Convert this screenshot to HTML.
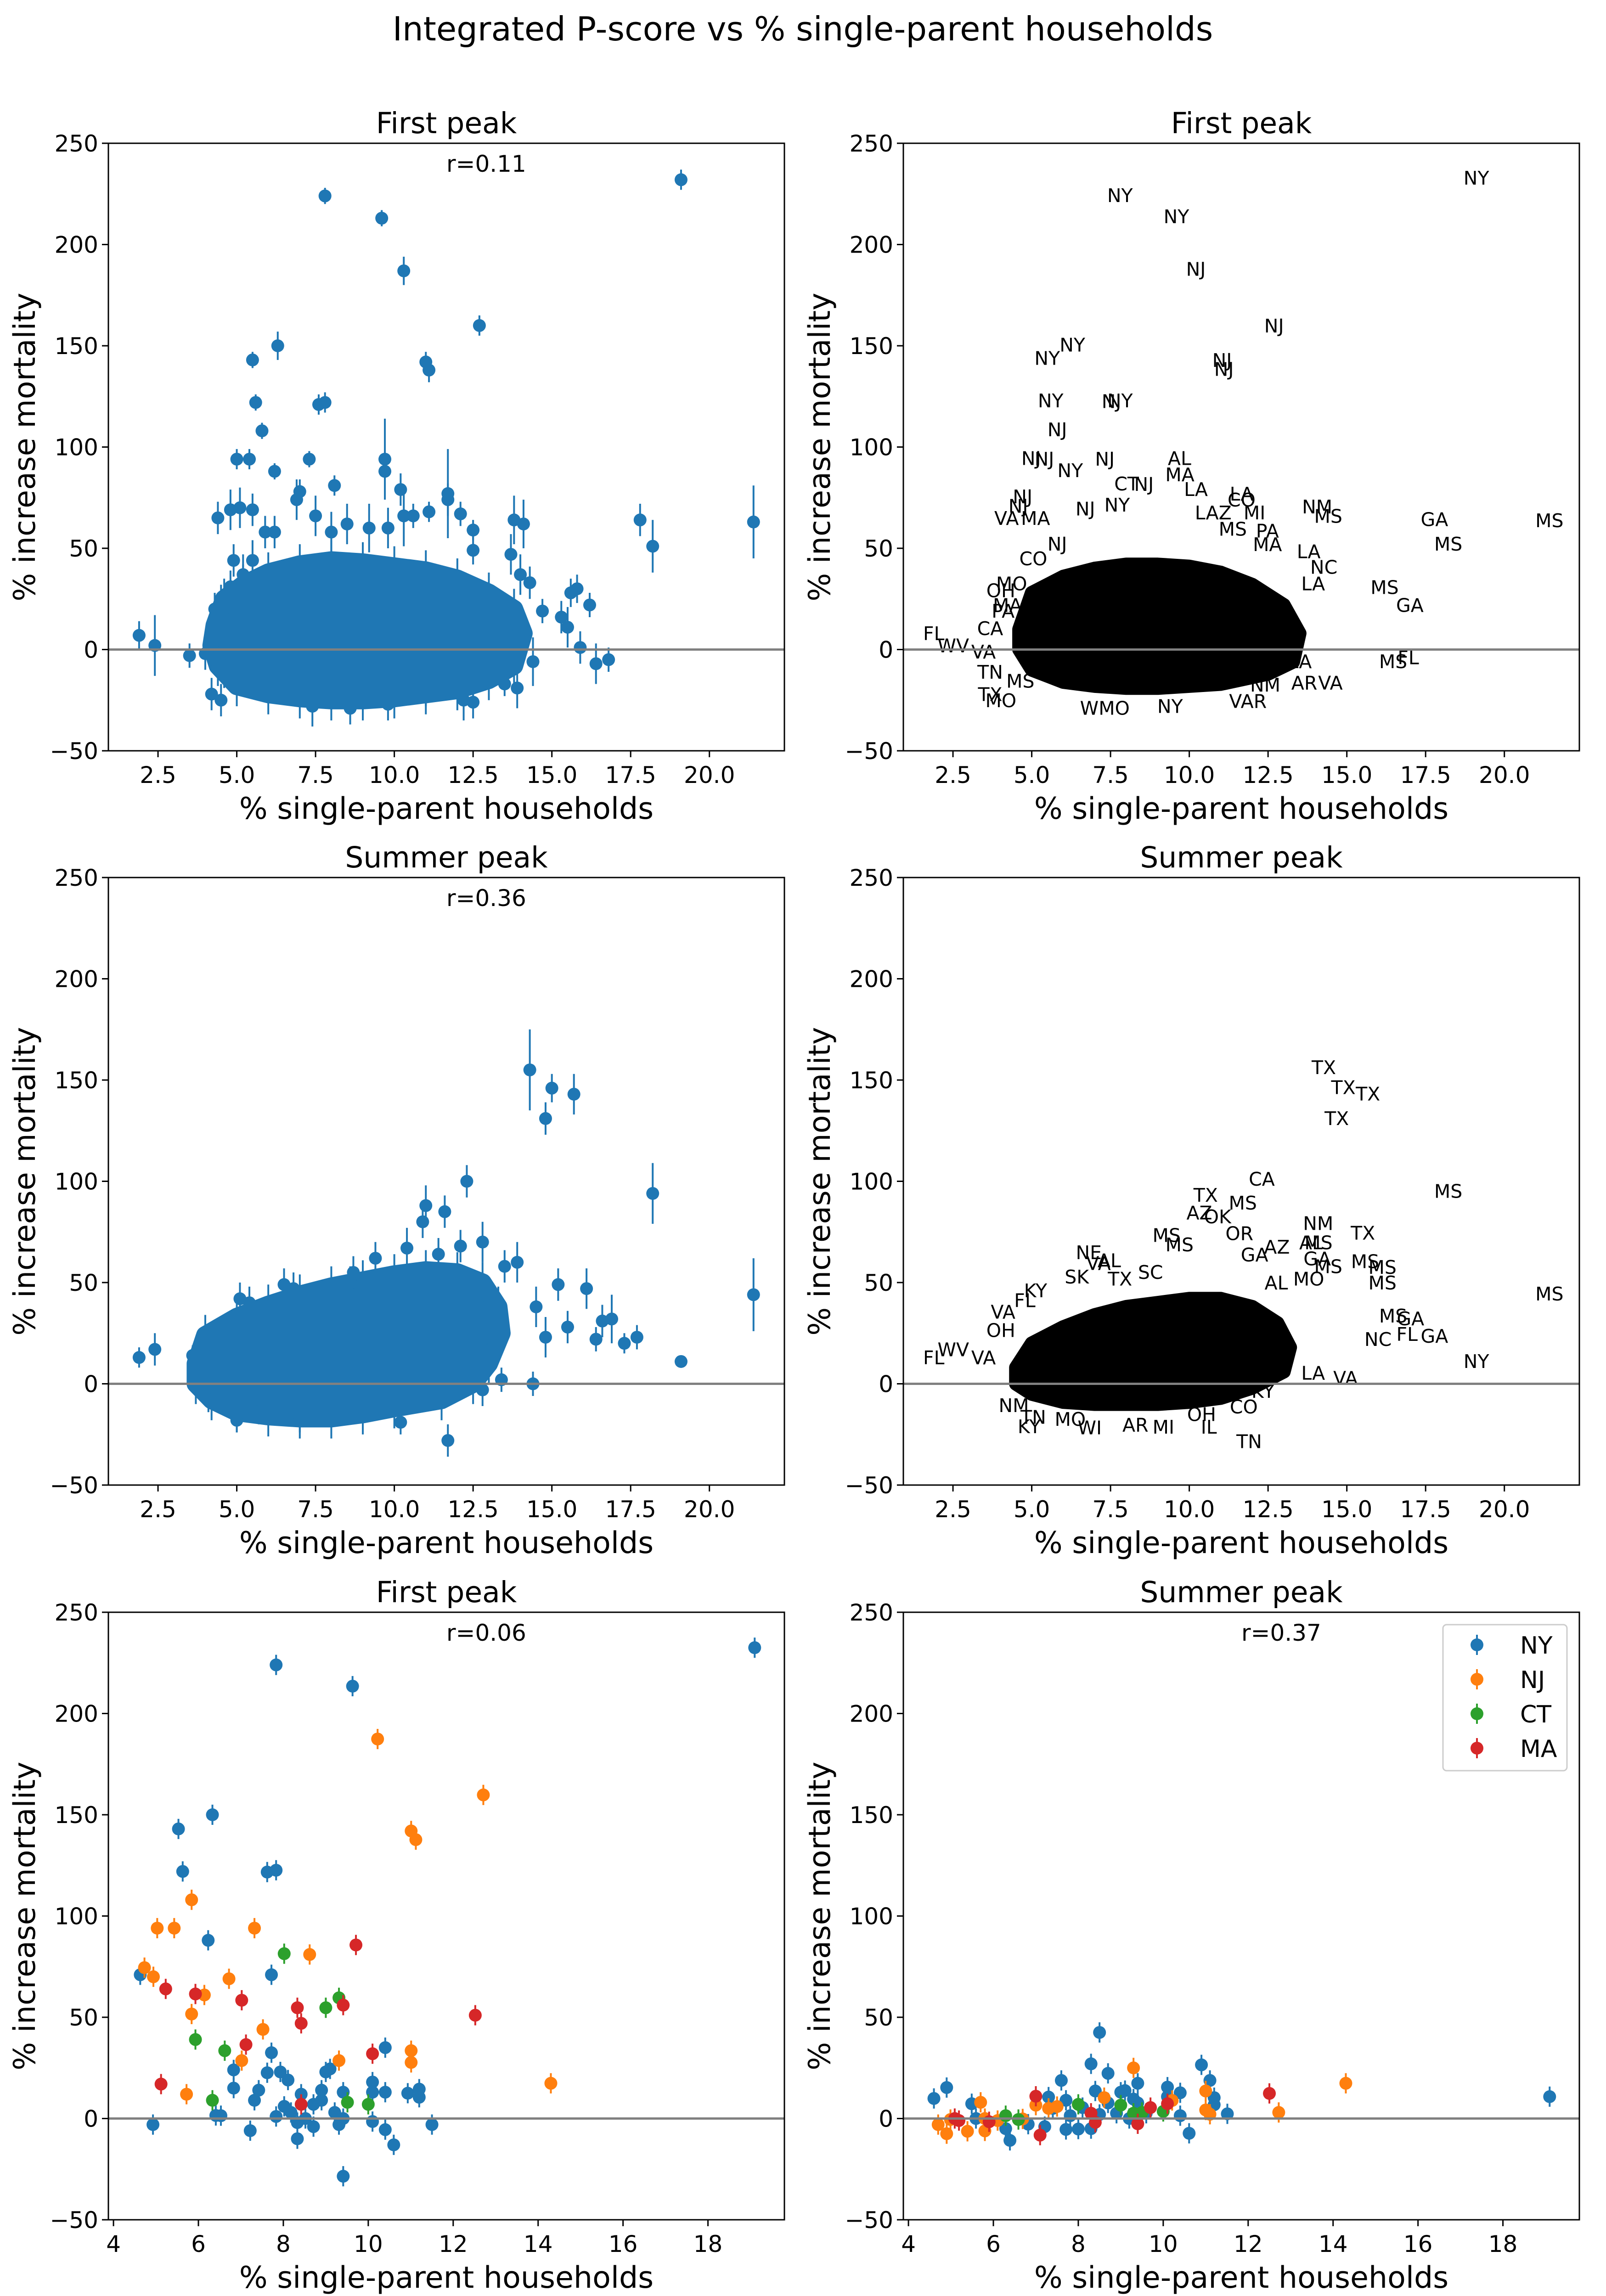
<!DOCTYPE html>
<html><head><meta charset="utf-8">
<style>
html,body{margin:0;padding:0;background:#fff;width:3497px;height:5026px;overflow:hidden;}
svg{display:block;font-family:"DejaVu Sans","Liberation Sans",sans-serif;}
</style></head>
<body>
<svg id="fig" width="3497" height="5026" viewBox="0 0 3497 5026" xmlns="http://www.w3.org/2000/svg">
<rect width="3497" height="5026" fill="#fff"/>
<text x="1748" y="88" font-size="72" text-anchor="middle">Integrated P-score vs % single-parent households</text>
</svg>
<script>
// ---------- data ----------
const fpX = [1.9,2.4,3.5,7.8,9.6,10.3,12.7,19.1,11,11.1,5.5,6.3,5.6,7.6,7.8,5.8,5,5.4,6.2,7.3,8.1,9.7,9.7,10.2,11.7,11.7,12.1,11.1,10.3,10.6,12.5,13.8,14.1,17.8,18.2,21.4,4.4,4.8,5.1,5.5,5.9,6.2,5.2,5.5,6.9,7.5,8,8.5,9.2,9.8,12.5,13.7,14,14.3,15.6,15.8,16.2,14.7,15.3,15.5,15.9,16.4,16.8,14.4,13.9,13.5,12.5,12.2,11,8.6,9.8,7.4,4.2,4.5,4.6,4.0,4.3,4.5,4.9,4.8,7];
const fpY = [7,2,-3,224,213,187,160,232,142,138,143,150,122,121,122,108,94,94,88,94,81,94,88,79,77,74,67,68,66,66,59,64,62,64,51,63,65,69,70,69,58,58,37,44,74,66,58,62,60,60,49,47,37,33,28,30,22,19,16,11,1,-7,-5,-6,-19,-17,-26,-25,-20,-29,-27,-28,-22,-25,-11,-2,20,24,44,31,78];
const fpE = [7,15,6,4,4,7,5,5,5,6,4,7,4,5,5,4,5,5,4,4,5,20,4,8,22,8,6,5,15,6,5,12,12,8,13,18,8,10,10,8,8,8,10,10,10,10,10,10,12,10,7,10,10,8,7,7,6,6,8,10,8,10,6,12,10,6,8,10,8,8,8,10,8,8,8,8,8,8,8,8,6];
const fpCloudX = [4.3,4.6,5.2,6,7,8,9,10,11,12,13,13.8,14.1,13.8,13,12,11,10,9,8,7,6,5,4.4,4.2];
const fpCloudY = [12,25,32,38,42,44,43,41,39,35,28,20,8,-8,-15,-20,-22,-24,-25,-25,-24,-22,-18,-8,2];
const fpLab = ["NY","NY","NY","NJ","NJ","NJ","NJ","NY","NY","NY","NJ","NY","NJ","NJ","NJ","NY","NJ","AL","MA","LA","CT","NJ","LA","CO","NY","NJ","NJ","NJ","VA","MA","MI","LAZ","NM","MS","GA","MS","MS","MS","PA","MA","LA","NC","LA","MS","GA","MS","FL","LA","AR","VA","NM","VAR","NY","WMO","MO","TX","TN","MS","VA","WV","FL","CA","PA","MA","OH","MO","CO","NJ"];
const fpLabX = [19.11,7.8,9.59,10.21,12.69,11.04,11.1,6.29,5.49,5.6,7.53,7.8,5.81,4.98,5.4,6.22,7.32,9.69,9.7,10.21,8.01,8.56,11.66,11.66,7.71,6.7,4.71,4.57,4.2,5.12,12.07,10.76,14.06,14.41,17.78,21.43,18.22,11.38,12.48,12.48,13.79,14.27,13.93,16.2,17,16.47,16.95,13.51,13.65,14.48,12.41,11.86,9.39,7.32,4.02,3.68,3.68,4.64,3.47,2.51,1.89,3.68,4.09,4.23,4.02,4.36,5.05,5.81];
const fpLabY = [233,224.4,214,188,160,143,138.5,150.6,144,123,122.7,123,108.7,94.6,94.2,88.5,94.2,94.6,86.5,79.2,82,81.7,77,74,71.5,69.6,75.6,71,65,65,67.7,67.7,70.6,66,64.4,63.8,52.3,59.6,58.7,52,48.5,40.8,32.7,30.8,22,-5.8,-3.8,-5.8,-16.3,-16.3,-17.3,-25.4,-27.9,-28.8,-25,-22,-11,-15.4,-1,2,8,10.6,19.2,22,29.2,32.7,45,52.3];
const fpTextCloudX = [4.6,5,6,7,8,9,10,11,12,13,13.5,13.3,12.5,11,10,9,8,7,6,5,4.6];
const fpTextCloudY = [10,28,36,40,42,42,41,38,32,22,8,-6,-12,-17,-18,-19,-19,-18,-16,-10,0];

const smX = [14.3,15,14.8,15.7,18.2,21.4,19.1,1.9,2.4,12.3,17.7,16.6,16.9,16.1,15.2,14.5,14.8,13.9,13.5,11,11.6,10.9,12.1,12.8,11.4,9.4,10.4,8.7,8.6,6.5,6.8,5.4,5.1,3.6,3.8,4.1,5,5.7,7,10.2,11.7,12.8,13.4,14.4,16.4,17.3,15.5,12.9,13.3];
const smY = [155,146,131,143,94,44,11,13,17,100,23,31,32,47,49,38,23,60,58,88,85,80,68,70,64,62,67,55,50,49,47,40,42,14,3,-8,-18,-14,-18,-19,-28,-3,2,0,22,20,28,24,37];
const smE = [20,7,8,10,15,18,3,5,8,8,6,8,12,10,8,10,10,10,8,10,8,8,8,10,8,8,10,8,8,8,8,8,8,5,6,6,6,6,6,6,8,8,6,6,6,5,8,8,8];
const smCloudX = [3.7,4,5,6,7,8,9,10,11,12,12.8,13.3,13.4,13,12.5,11.5,10,9,8,7,6,5,4.2,3.7];
const smCloudY = [10,24,33,39,44,48,51,54,56,55,50,38,25,10,0,-8,-12,-15,-17,-17,-16,-14,-8,0];
const smLab = ["TX","TX","TX","TX","CA","TX","MS","AZ","OK","MS","NM","TX","AL","MS","OR","MS","MS","AZ","GA","NE","AL","VA","GA","MS","MS","MS","MS","MO","AL","MS","MS","GA","FL","GA","NC","NY","VA","LA","FL","WV","VA","OH","VA","KY","NM","TN","MO","WI","AR","MI","OH","IL","TN","CO","KY","TX","SC","SK","KY","FL"];
const smLabX = [14.27,14.89,15.67,14.68,12.3,10.52,11.7,10.32,10.9,18.22,14.09,15.51,13.86,14.1,11.59,9.28,9.69,12.78,12.07,6.81,7.46,7.12,14.06,14.41,15.58,16.13,16.13,13.79,12.76,21.43,16.47,17.02,16.91,17.78,15.99,19.11,14.96,13.93,1.89,2.51,3.47,4.02,4.09,4.92,4.43,5.05,6.22,6.84,8.29,9.18,10.39,10.62,11.9,11.73,12.34,7.8,8.77,6.43,5.12,4.78];
const smLabY = [156.3,146.5,143.3,131.2,101.3,93.3,89.4,84.6,82.7,95.2,79.4,74.6,69.8,69.8,74.4,73.5,68.8,67.7,63.8,65,61,59.6,61.9,58,60.6,57.7,50,51.9,50,44.6,33.7,32.3,24.6,23.7,22.1,11.2,2.9,5.4,13,17,13,26.5,35.6,-21,-10.6,-16.3,-17.3,-21.5,-20.2,-21.2,-15,-21.2,-28.3,-11.2,-3.5,51.9,55.2,53,46.2,41.3];
const smTextCloudX = [4.5,5,6,7,8,9,10,11,12,12.8,13.2,13,12,11,10,9,8,7,6,5,4.5];
const smTextCloudY = [8,20,28,34,38,40,42,42,38,30,18,6,-2,-7,-9,-10,-10,-10,-9,-5,0];

const states = ["NY","NJ","CT","MA"];
const nyFirstX = [19.1,7.83,9.63,6.33,5.53,5.63,7.62,7.83,6.23,7.72,4.63,7.72,6.83,6.83,7.62,7.93,8.11,7.42,7.32,6.41,6.53,4.93,7.22,7.83,8.02,8.18,8.33,8.33,8.42,8.52,8.71,8.71,8.9,8.9,9.0,9.1,9.21,9.31,9.41,9.41,9.41,10.1,10.1,10.1,10.4,10.4,10.4,10.6,10.93,11.2,11.2,11.5];
const nyFirstY = [232.5,224,213.5,150,143,122,121.7,122.6,88,71,71,32.5,24,15,22.6,23,19,14,9,1.5,1.4,-3,-6,1,6,3,-2,-10,12,0,-4,7,9,14,23,24.5,3,-3,0,13,-28.5,18,13,-1.5,35,13,-5.5,-13,12.5,14.5,10.5,-3];
const njFirstX = [10.22,12.71,11.01,11.12,5.84,5.03,5.43,7.32,8.62,4.73,4.94,6.72,6.14,5.84,7.52,7.02,9.31,11.01,11.01,5.72,14.3];
const njFirstY = [187.4,159.8,142,137.7,108,94,94,94,81,74.5,70,69,61,51.6,44,28.6,28.6,33.5,27.7,12,17.4];
const ctFirstX = [8.02,9.31,9.0,5.93,6.62,6.33,9.51,10.0];
const ctFirstY = [81.4,59.6,54.7,39,33.5,9,8,7];
const maFirstX = [9.71,5.23,5.93,7.02,9.41,8.33,8.42,12.52,7.12,10.1,5.12,8.42];
const maFirstY = [85.7,64,61.5,58.4,56,54.7,47,51,36.5,32,17,7];

const nySumX = [19.1,8.5,4.6,4.9,5.49,5.59,6.29,6.39,6.82,7.21,7.3,7.4,7.6,7.71,7.71,7.81,8.0,8.1,8.3,8.3,8.4,8.5,8.7,8.7,8.9,9.0,9.1,9.2,9.3,9.4,9.4,9.6,10.1,10.1,10.4,10.4,10.61,10.9,11.1,11.2,11.2,11.51];
const nySumY = [10.8,42.5,9.9,15.3,7.3,0,-5,-10.8,-2.8,-4,10.6,5,18.8,9,-5.4,1.4,-5.2,5.4,27,-5,13.6,2,22.3,7.7,2.6,13,13.8,0,9.6,17.4,7.7,2.6,15.5,10.8,12.7,1.4,-7.3,26.5,18.8,10.3,6.8,2.3];
const njSumX = [14.3,12.72,9.3,8.61,10.21,11.0,11.0,11.1,4.7,4.9,4.99,5.39,5.7,5.8,5.8,6.1,6.69,7.0,7.3,7.5];
const njSumY = [17.4,3,25,10.3,8.9,13.6,4.2,2.1,-3,-7.5,-0.5,-6.3,8,-6.1,0,-1,-0.2,6.6,5,5.9];
const ctSumX = [8.0,9.0,9.3,9.5,10.0,6.29,6.59];
const ctSumY = [7,6.6,2.6,3,3.5,1.4,-0.5];
const maSumX = [12.5,7.0,7.1,9.7,10.1,8.3,8.4,9.4,5.09,5.19,5.9];
const maSumY = [12.4,11,-8.2,5.4,7.3,2.6,-1.9,-2.6,0,-1,-1.6];

const yTicks = [-50,0,50,100,150,200,250];
const xTicksWide = [2.5,5.0,7.5,10.0,12.5,15.0,17.5,20.0];
const xTicksNarrow = [4,6,8,10,12,14,16,18];

// ---------- drawing ----------
const NS = "http://www.w3.org/2000/svg";
const svg = document.getElementById('fig');
const COLORS = {NY:"#1f77b4",NJ:"#ff7f0e",CT:"#2ca02c",MA:"#d62728"};
const W = 1472, H = 1323;
function mk(tag, attrs, parent){
  const e = document.createElementNS(NS, tag);
  for (const k in attrs) e.setAttribute(k, attrs[k]);
  (parent||svg).appendChild(e);
  return e;
}
function makePanel(x0, y0, xmin, xmax, xticks, fmt, title, rtext, name){
  const g = mk('g', {});
  
  
  const sx = v => x0 + (v - xmin) / (xmax - xmin) * W;
  const sy = v => y0 + (250 - v) / 300 * H;
  const plot = mk('g', {}, g);
  
  
  const zl = mk('line', {x1:x0, x2:x0+W, y1:sy(0), y2:sy(0), stroke:'#808080', 'stroke-width':5}, g);
  
  
  const fr = mk('rect', {x:x0, y:y0, width:W, height:H, fill:'none', stroke:'#000', 'stroke-width':3}, g);
  
  
  yTicks.forEach(t => {
    mk('line', {x1:x0-14, x2:x0, y1:sy(t), y2:sy(t), stroke:'#000', 'stroke-width':3}, g);
    const tx = mk('text', {x:x0-22, y:sy(t)+18, 'font-size':50, 'text-anchor':'end'}, g);
    tx.textContent = t < 0 ? '\u2212' + Math.abs(t) : String(t);
    
    
  });
  xticks.forEach(t => {
    mk('line', {x1:sx(t), x2:sx(t), y1:y0+H, y2:y0+H+14, stroke:'#000', 'stroke-width':3}, g);
    const tx = mk('text', {x:sx(t), y:y0+H+70, 'font-size':50, 'text-anchor':'middle'}, g);
    tx.textContent = fmt(t);
    
    
  });
  const xl = mk('text', {x:x0+W/2, y:y0+H+148, 'font-size':65, 'text-anchor':'middle'}, g);
  xl.textContent = '% single-parent households';
  
  
  const yl = mk('text', {x:0, y:0, 'font-size':65, 'text-anchor':'middle', transform:`translate(${x0-160},${y0+H/2}) rotate(-90)`}, g);
  yl.textContent = '% increase mortality';
  
  
  const tt = mk('text', {x:x0+W/2, y:y0-22, 'font-size':63, 'text-anchor':'middle'}, g);
  tt.textContent = title;
  
  
  if (rtext){
    const rt = mk('text', {x:x0+W/2, y:y0+62, 'font-size':50}, g);
    rt.textContent = rtext;
    
    
  }
  return {g: plot, sx, sy};
}
function cloud(p, xs, ys, color, strokeW, name, dots){
  const pts = xs.map((x,i) => p.sx(x).toFixed(1) + ',' + p.sy(ys[i]).toFixed(1)).join(' ');
  const pg = mk('polygon', {points:pts, fill:color, stroke:color, 'stroke-width':strokeW, 'stroke-linejoin':'round'}, p.g);
  
  
  if (dots){
    xs.forEach((x,i) => {
      const ln = mk('line', {x1:p.sx(x), x2:p.sx(x), y1:p.sy(ys[i]+10), y2:p.sy(ys[i]-10), stroke:color, 'stroke-width':4}, p.g);
      
      
      const c = mk('circle', {cx:p.sx(x), cy:p.sy(ys[i]), r:14, fill:color}, p.g);
      
      
    });
  }
}
function points(p, xs, ys, es, color, name){
  xs.forEach((x,i) => {
    const e = es ? es[i] : 5;
    const ln = mk('line', {x1:p.sx(x), x2:p.sx(x), y1:p.sy(ys[i]+e), y2:p.sy(ys[i]-e), stroke:color, 'stroke-width':4}, p.g);
    
    
    const c = mk('circle', {cx:p.sx(x), cy:p.sy(ys[i]), r:14, fill:color}, p.g);
    
    
  });
}
function labels(p, xs, ys, labs){
  xs.forEach((x,i) => {
    const t = mk('text', {x:p.sx(x), y:p.sy(ys[i])+15, 'font-size':41, 'text-anchor':'middle'}, p.g);
    t.textContent = labs[i];
    
    
  });
}
const fmt1 = v => v.toFixed(1);
const fmt0 = v => String(v);
const L = 236, R = 1967, T1 = 312, T2 = 1911, T3 = 3511;

const p1 = makePanel(L, T1, 0.925, 22.38, xTicksWide, fmt1, 'First peak', 'r=0.11', 'first-peak-scatter');
cloud(p1, fpCloudX, fpCloudY, '#1f77b4', 40, 'county-cloud', true);
points(p1, fpX, fpY, fpE, '#1f77b4', 'county');
const p2 = makePanel(R, T1, 0.925, 22.38, xTicksWide, fmt1, 'First peak', null, 'first-peak-labels');
cloud(p2, fpTextCloudX, fpTextCloudY, '#000', 30, 'label-cloud', false);
labels(p2, fpLabX, fpLabY, fpLab);
const p3 = makePanel(L, T2, 0.925, 22.38, xTicksWide, fmt1, 'Summer peak', 'r=0.36', 'summer-peak-scatter');
cloud(p3, smCloudX, smCloudY, '#1f77b4', 40, 'county-cloud', true);
points(p3, smX, smY, smE, '#1f77b4', 'county');
const p4 = makePanel(R, T2, 0.925, 22.38, xTicksWide, fmt1, 'Summer peak', null, 'summer-peak-labels');
cloud(p4, smTextCloudX, smTextCloudY, '#000', 30, 'label-cloud', false);
labels(p4, smLabX, smLabY, smLab);
const p5 = makePanel(L, T3, 3.88, 19.8, xTicksNarrow, fmt0, 'First peak', 'r=0.06', 'first-peak-northeast');
points(p5, nyFirstX, nyFirstY, null, COLORS.NY, 'ny');
points(p5, njFirstX, njFirstY, null, COLORS.NJ, 'nj');
points(p5, ctFirstX, ctFirstY, null, COLORS.CT, 'ct');
points(p5, maFirstX, maFirstY, null, COLORS.MA, 'ma');
const p6 = makePanel(R, T3, 3.88, 19.8, xTicksNarrow, fmt0, 'Summer peak', 'r=0.37', 'summer-peak-northeast');
points(p6, nySumX, nySumY, null, COLORS.NY, 'ny');
points(p6, njSumX, njSumY, null, COLORS.NJ, 'nj');
points(p6, ctSumX, ctSumY, null, COLORS.CT, 'ct');
points(p6, maSumX, maSumY, null, COLORS.MA, 'ma');

const lg = mk('g', {});


const lb = mk('rect', {x:3142, y:3538, width:270, height:318, rx:8, fill:'#fff', stroke:'#ccc', 'stroke-width':3}, lg);


states.forEach((s,i) => {
  const yy = 3582 + i*75;
  const e = mk('g', {}, lg);
  
  
  mk('line', {x1:3216, x2:3216, y1:yy-22, y2:yy+22, stroke:COLORS[s], 'stroke-width':4}, e);
  mk('circle', {cx:3216, cy:yy, r:14, fill:COLORS[s]}, e);
  const t = mk('text', {x:3310, y:yy+19, 'font-size':52}, e);
  t.textContent = s;
});
</script>
</body></html>
